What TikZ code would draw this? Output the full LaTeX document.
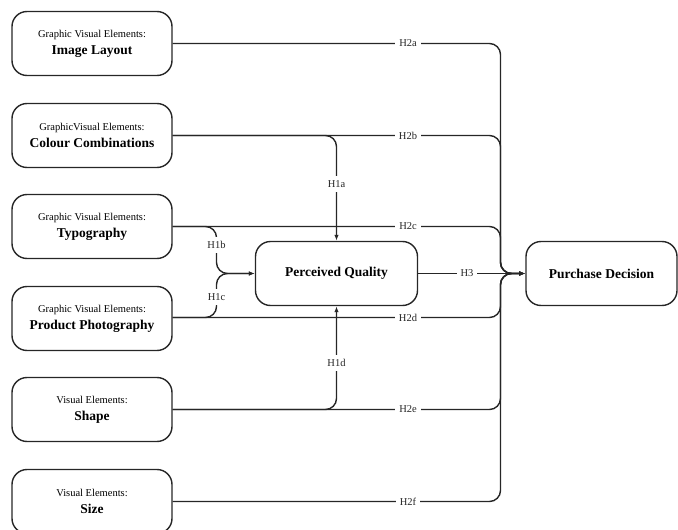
\documentclass[tikz,border=0pt]{standalone}
\usepackage{fontspec}
\setmainfont{Liberation Serif}
\usetikzlibrary{arrows.meta}
\begin{document}
\begin{tikzpicture}[x=1pt,y=-1pt,
  box/.style={draw=black!85, line width=1.4pt, rounded corners=15pt, minimum width=160pt, minimum height=64pt, align=center, inner sep=0pt},
  pbox/.style={draw=black!85, line width=1.4pt, rounded corners=15pt, minimum width=162pt, minimum height=64pt, align=center, inner sep=0pt, font=\fontsize{13.5}{16}\selectfont\bfseries},
  conn/.style={draw=black!85, line width=1.4pt, rounded corners=11pt},
  arr/.style={conn, -{Latex[length=6pt,width=4.5pt]}},
  lbl/.style={fill=white, inner xsep=4pt, inner ysep=1.5pt, font=\fontsize{10.5}{12}\selectfont, text=black!85},
  vlbl/.style={lbl, inner xsep=1.5pt, inner ysep=4pt}]
\useasboundingbox (0,0) rectangle (678,530);
\newcommand{\twoline}[2]{{\fontsize{10.5}{12}\selectfont #1}\\[5pt]{\fontsize{13.5}{16}\selectfont\bfseries #2}}
% left boxes
\node[box] (b1) at (92,43.5) {\twoline{Graphic Visual Elements:}{Image Layout}};
\node[box] (b2) at (92,135.5) {\twoline{GraphicVisual Elements:}{Colour Combinations}};
\node[box] (b3) at (92,226.5) {\twoline{Graphic Visual Elements:}{Typography}};
\node[box] (b4) at (92,318.5) {\twoline{Graphic Visual Elements:}{Product Photography}};
\node[box] (b5) at (92,409.5) {\twoline{Visual Elements:}{Shape}};
\node[box] (b6) at (92,501.5) {\twoline{Visual Elements:}{Size}};
% centre and right boxes
\node[pbox] (pq) at (336.5,273.5) {Perceived Quality};
\node[pbox, minimum width=151pt] (pd) at (601.5,273.5) {Purchase Decision};
% merge point
\coordinate (m) at (500.5,273.5);
% H2 paths
\draw[arr] (b1.east) -- (500.5,43.5) -- (m) -- (pd.west);
\draw[arr] (b2.east) -- (500.5,135.5) -- (m) -- (pd.west);
\draw[arr] (b3.east) -- (500.5,226.5) -- (m) -- (pd.west);
\draw[arr] (b4.east |- 0,317.5) -- (500.5,317.5) -- (m) -- (pd.west);
\draw[arr] (b5.east) -- (500.5,409.5) -- (m) -- (pd.west);
\draw[arr] (b6.east) -- (500.5,501.5) -- (m) -- (pd.west);
% H3
\draw[arr] (pq.east) -- (pd.west);
% H1 paths
\draw[arr] (b2.east) -- (336.5,135.5) -- (pq.north);
\draw[arr] (b3.east) -- (216.5,226.5) -- (216.5,273.5) -- (pq.west);
\draw[arr] (b4.east |- 0,317.5) -- (216.5,317.5) -- (216.5,273.5) -- (pq.west);
\draw[arr] (b5.east) -- (336.5,409.5) -- (pq.south);
% labels
\node[lbl] (l2a) at (408,43.5) {H2a};
\node[lbl] (l2b) at (408,135.5) {H2b};
\node[lbl] (l2c) at (408,226.5) {H2c};
\node[lbl] (l2d) at (408,317.5) {H2d};
\node[lbl] (l2e) at (408,409.5) {H2e};
\node[lbl] (l2f) at (408,501.5) {H2f};
\node[lbl] (l3) at (467,273.5) {H3};
\node[vlbl] (l1a) at (336.5,184) {H1a};
\node[vlbl] (l1b) at (216.5,245) {H1b};
\node[vlbl] (l1c) at (216.5,297) {H1c};
\node[vlbl] (l1d) at (336.5,363) {H1d};
\end{tikzpicture}
\end{document}
